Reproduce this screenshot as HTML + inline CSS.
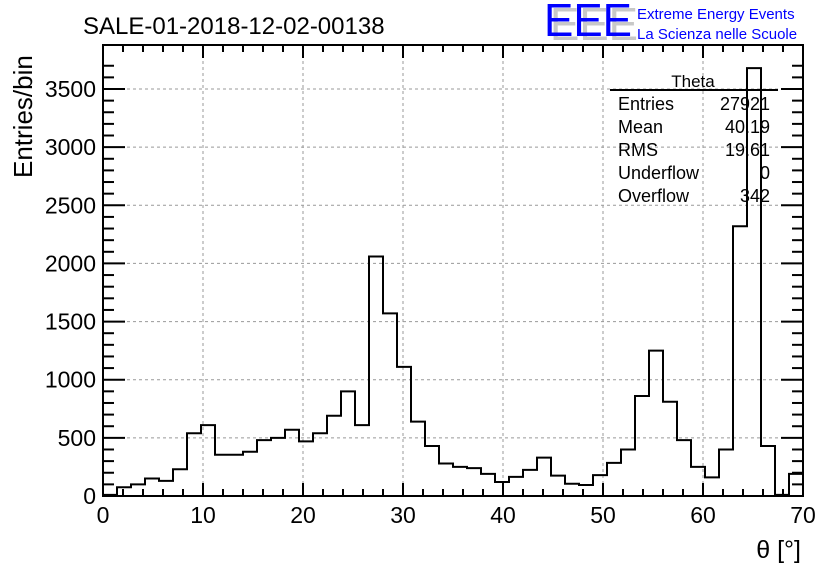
<!DOCTYPE html>
<html><head><meta charset="utf-8"><style>
body{margin:0;background:#fff;}
svg text{font-family:"Liberation Sans",sans-serif;}
</style></head><body>
<svg width="836" height="572" xmlns="http://www.w3.org/2000/svg">
<rect width="836" height="572" fill="#fff"/>
<text x="83" y="34" font-size="24">SALE-01-2018-12-02-00138</text>
<g>
<text x="550" y="40" font-size="46" fill="#c8c8c8" textLength="88" lengthAdjust="spacingAndGlyphs">EEE</text>
<text x="544" y="36" font-size="46" fill="#0000ff" textLength="88" lengthAdjust="spacingAndGlyphs">EEE</text>
<text x="637" y="19" font-size="15" fill="#0000ff">Extreme Energy Events</text>
<text x="637" y="39" font-size="15" fill="#0000ff">La Scienza nelle Scuole</text>
</g>
<g id="grid"></g>
<g id="ticks"></g>
<path id="hist" fill="none" stroke="#000" stroke-width="2"/>
<rect x="103" y="45" width="700" height="451" fill="none" stroke="#000" stroke-width="2"/>
<g id="labels"></g>
<text x="32" y="178" font-size="26" transform="rotate(-90 32 178)">Entries/bin</text>
<text x="801" y="558" font-size="25" text-anchor="end">θ [°]</text>
<g>
<text x="693" y="87" font-size="17" text-anchor="middle">Theta</text>
<line x1="610" y1="90" x2="778" y2="90" stroke="#000" stroke-width="2"/>
<text x="618" y="110" font-size="18">Entries</text><text x="770" y="110" font-size="18" text-anchor="end">27921</text>
<text x="618" y="133" font-size="18">Mean</text><text x="770" y="133" font-size="18" text-anchor="end">40.19</text>
<text x="618" y="156" font-size="18">RMS</text><text x="770" y="156" font-size="18" text-anchor="end">19.61</text>
<text x="618" y="179" font-size="18">Underflow</text><text x="770" y="179" font-size="18" text-anchor="end">0</text>
<text x="618" y="202" font-size="18">Overflow</text><text x="770" y="202" font-size="18" text-anchor="end">342</text>
</g>
</svg>
<script>
const binWidth = 1.4;
const counts = [10,75,100,150,130,230,540,610,355,355,380,480,500,570,470,540,690,900,610,2060,1570,1110,640,430,280,250,240,190,120,165,225,330,175,105,95,180,285,400,860,1250,810,480,250,160,400,2320,3680,430,10,190];
const xTicks = [0,10,20,30,40,50,60,70];
const yTicks = [0,500,1000,1500,2000,2500,3000,3500];
const NS="http://www.w3.org/2000/svg";
const X0=103,X1=803,Y0=496,Y1=45;
const xs=v=>X0+(v-0)/70*(X1-X0);
const ys=v=>Y0-v*(496-89)/3500;
function mk(t,a,p){const e=document.createElementNS(NS,t);for(const k in a)e.setAttribute(k,a[k]);p.appendChild(e);return e;}
const grid=document.getElementById('grid'),ticks=document.getElementById('ticks'),labels=document.getElementById('labels');
xTicks.forEach(v=>{
 if(v>0&&v<70){const l=mk('line',{x1:xs(v),x2:xs(v),y1:Y0,y2:Y1,stroke:'#999','stroke-dasharray':'3,3'},grid);
 
 }
 mk('line',{x1:xs(v),x2:xs(v),y1:Y0,y2:Y0-13,stroke:'#000','stroke-width':2},ticks);
 mk('line',{x1:xs(v),x2:xs(v),y1:Y1,y2:Y1+13,stroke:'#000','stroke-width':2},ticks);
 const t=mk('text',{x:xs(v),y:523,'font-size':23,'text-anchor':'middle'},labels);t.textContent=v;
 
 
});
for(let v=0;v<=70;v+=2){if(v%10){mk('line',{x1:xs(v),x2:xs(v),y1:Y0,y2:Y0-7,stroke:'#000','stroke-width':2},ticks);mk('line',{x1:xs(v),x2:xs(v),y1:Y1,y2:Y1+7,stroke:'#000','stroke-width':2},ticks);}}
yTicks.forEach(v=>{
 if(v>0){const l=mk('line',{x1:X0,x2:X1,y1:ys(v),y2:ys(v),stroke:'#999','stroke-dasharray':'3,3'},grid);
 
 }
 mk('line',{x1:X0,x2:X0+22,y1:ys(v),y2:ys(v),stroke:'#000','stroke-width':2},ticks);
 mk('line',{x1:X1,x2:X1-22,y1:ys(v),y2:ys(v),stroke:'#000','stroke-width':2},ticks);
 const t=mk('text',{x:96,y:ys(v)+8,'font-size':23,'text-anchor':'end'},labels);t.textContent=v;
 
 
});
for(let v=100;v<3800;v+=100){if(v%500){const y=ys(v);if(y<Y1)continue;mk('line',{x1:X0,x2:X0+11,y1:y,y2:y,stroke:'#000','stroke-width':2},ticks);mk('line',{x1:X1,x2:X1-11,y1:y,y2:y,stroke:'#000','stroke-width':2},ticks);}}
let d=`M${xs(0)},${ys(0)}`;
counts.forEach((c,i)=>{d+=` L${xs(i*binWidth)},${ys(c)} L${xs((i+1)*binWidth)},${ys(c)}`;});
d+=` L${xs(70)},${ys(0)}`;
document.getElementById('hist').setAttribute('d',d);
</script>
</body></html>
